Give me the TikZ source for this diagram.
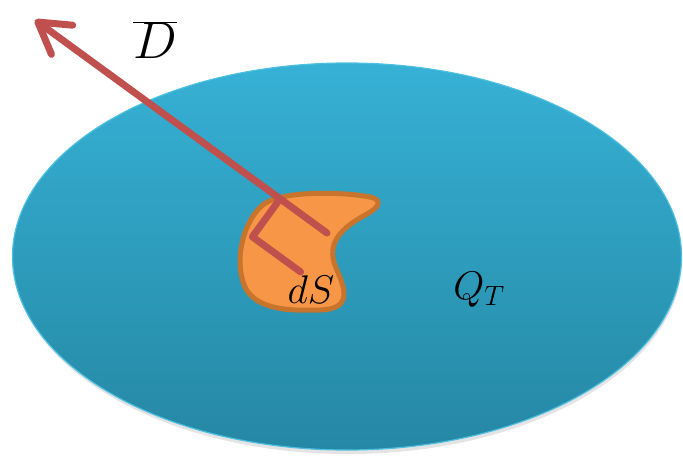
\documentclass[tikz,border=0pt]{standalone}
\usepackage{fix-cm}
\usetikzlibrary{arrows.meta}
\definecolor{blueTop}{HTML}{36B1D5}
\definecolor{blueBot}{HTML}{2587A4}
\definecolor{rimBlue}{HTML}{4CC0E0}
\definecolor{blobFill}{HTML}{F79646}
\definecolor{blobLine}{HTML}{C8742C}
\definecolor{arrowRed}{HTML}{C0504D}
\tikzset{
  region/.style={top color=blueTop,bottom color=blueBot,draw=rimBlue,line width=1.2pt},
  patch/.style={fill=blobFill,draw=blobLine,line width=5pt,line join=round},
  vec/.style={draw=arrowRed,line width=7pt,line cap=round,line join=round},
  lbl/.style={inner sep=0pt,text=black}
}
\begin{document}
\begin{tikzpicture}[x=1pt,y=-1pt]
\useasboundingbox (0,0) rectangle (683,460);
% shadow
\fill[gray!35,opacity=0.6] (348,260) ellipse [x radius=334, y radius=194];
% surface
\shade[region] (347,256.5) ellipse [x radius=334.5, y radius=193.5];
% patch dS
\draw[patch] (264,204)
  .. controls (284,190) and (345,192) .. (370,197)
  .. controls (384,200) and (378,208) .. (367,214)
  .. controls (343,227) and (325,242) .. (336,268)
  .. controls (346,290) and (352,309) .. (320,310)
  .. controls (290,311) and (256,310) .. (245,287)
  .. controls (233,260) and (244,219) .. cycle;
% vector
\coordinate (base) at (327,233);
\coordinate (tip) at (35,20);
\coordinate (foot) at (280.1,198.8);
\coordinate (corner) at (252.4,236.8);
\coordinate (rend) at (300.6,271.9);
\draw[vec,-{Straight Barb[length=30pt,width=36pt,round]}] (base) -- (tip);
\draw[vec] (foot) -- (corner) -- (rend);
% labels
\node[lbl,font=\fontsize{52}{62}\selectfont] (D) at (155,40) {$\overline{D}$};
\node[lbl,font=\fontsize{40}{48}\selectfont] (dS) at (311,290) {$dS$};
\node[lbl,font=\fontsize{40}{48}\selectfont] (QT) at (479,290) {$Q_T$};
\end{tikzpicture}
\end{document}
